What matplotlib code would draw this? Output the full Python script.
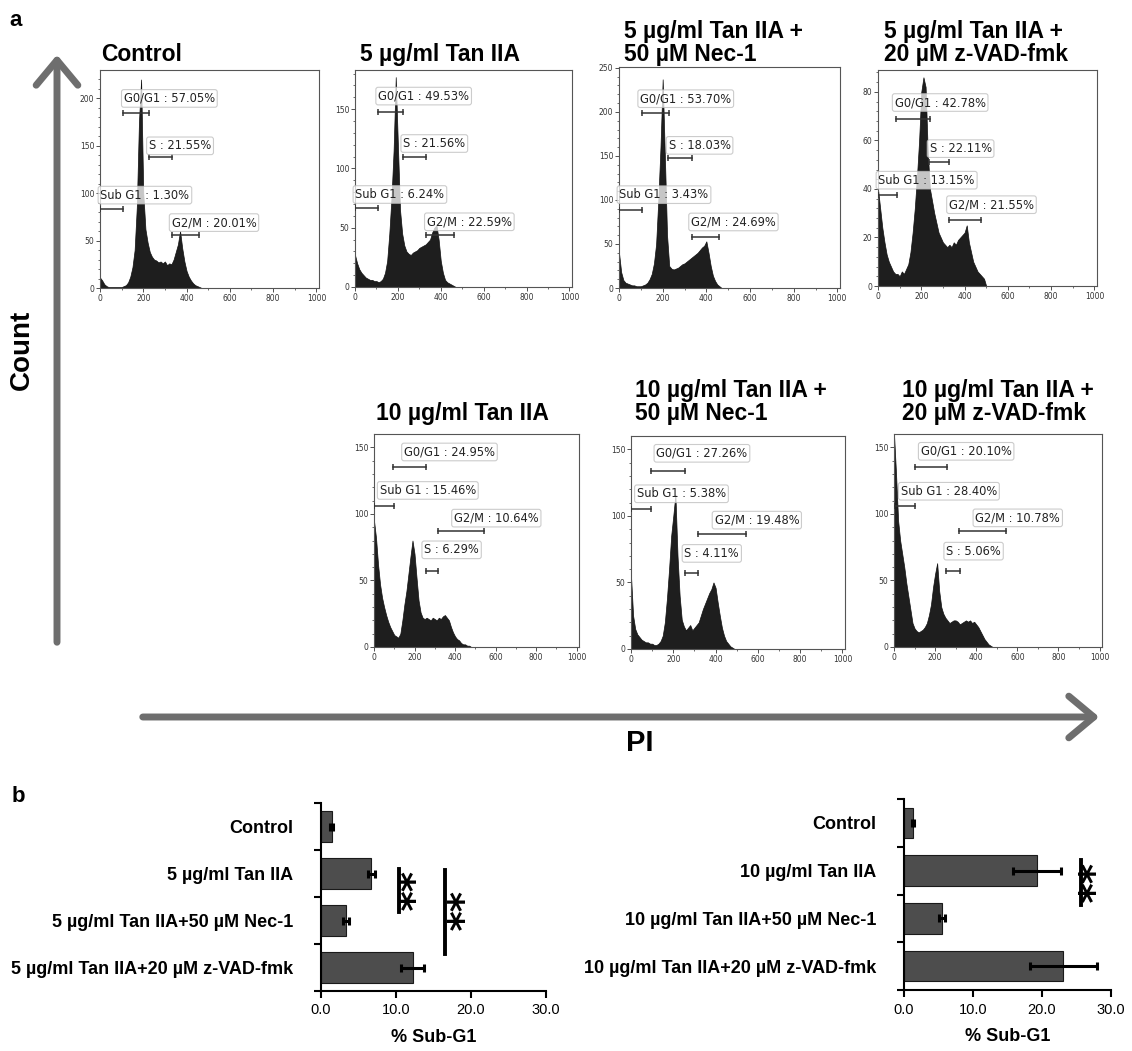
import numpy as np
import matplotlib
matplotlib.use("Agg")
from matplotlib import pyplot as plt
from matplotlib.patches import FancyArrowPatch

# ---- data -------------------------------------------------------------
# PI channel bins (every 10 units) used for all histograms
pi_channels = [0, 10, 20, 30, 40, 50, 60, 70, 80, 90,
               100, 110, 120, 130, 140, 150, 160, 170, 180, 190,
               200, 210, 220, 230, 240, 250, 260, 270, 280, 290,
               300, 310, 320, 330, 340, 350, 360, 370, 380, 390,
               400, 410, 420, 430, 440, 450, 460, 470, 480, 490, 500]

counts_ctrl = [11, 8, 4, 2, 1, 1, 1, 1, 1, 1, 1, 2, 3, 6, 12, 22, 40, 85, 175, 220,
               100, 62, 48, 38, 33, 30, 29, 27, 28, 26, 28, 24, 26, 25, 30, 38, 46, 60, 42, 28,
               18, 12, 8, 5, 3, 2, 1, 0, 0, 0, 0]
counts_5 = [27, 20, 15, 12, 10, 8, 7, 6, 6, 5, 5, 4, 5, 7, 12, 22, 45, 75, 115, 177,
            120, 65, 45, 35, 30, 28, 27, 29, 30, 31, 33, 34, 35, 36, 38, 40, 46, 50, 52, 40,
            22, 12, 6, 4, 3, 2, 1, 0, 0, 0, 0]
counts_5_nec = [40, 18, 9, 6, 5, 4, 3, 3, 2, 2, 2, 3, 4, 6, 10, 16, 28, 50, 100, 160,
                237, 150, 60, 25, 22, 21, 22, 23, 25, 27, 28, 30, 32, 34, 36, 38, 40, 43, 46, 48,
                53, 40, 25, 14, 8, 4, 2, 0, 0, 0, 0]
counts_5_zvad = [40, 32, 24, 18, 13, 10, 8, 6, 5, 5, 4, 6, 5, 7, 9, 14, 22, 32, 45, 60,
                 80, 86, 82, 55, 40, 35, 30, 26, 22, 20, 18, 17, 16, 17, 16, 18, 17, 19, 20, 21,
                 22, 25, 18, 14, 10, 8, 6, 5, 4, 3, 0]
counts_10 = [95, 82, 62, 47, 37, 30, 24, 19, 15, 12, 9, 8, 7, 10, 20, 32, 42, 55, 68, 80,
             70, 52, 35, 26, 22, 21, 22, 21, 20, 22, 21, 20, 22, 21, 23, 24, 22, 20, 15, 11,
             8, 6, 5, 3, 2, 2, 1, 1, 0, 0, 0]
counts_10_nec = [55, 25, 15, 11, 9, 7, 6, 5, 5, 4, 4, 3, 3, 4, 6, 10, 20, 38, 60, 85,
                 100, 116, 70, 40, 22, 17, 14, 16, 18, 14, 16, 18, 20, 25, 30, 34, 38, 42, 45, 50,
                 46, 35, 25, 16, 10, 6, 4, 2, 1, 0, 0]
counts_10_zvad = [160, 130, 95, 80, 70, 60, 48, 38, 28, 18, 14, 12, 11, 12, 13, 15, 18, 24, 32, 45,
                  55, 63, 42, 30, 25, 22, 20, 18, 19, 20, 20, 19, 17, 18, 19, 20, 19, 20, 18, 19,
                  17, 15, 12, 9, 6, 4, 2, 1, 0, 0, 0]

# gate percentages: G0/G1, S, Sub G1, G2/M
pct_ctrl = ["57.05%", "21.55%", "1.30%", "20.01%"]
pct_5 = ["49.53%", "21.56%", "6.24%", "22.59%"]
pct_5_nec = ["53.70%", "18.03%", "3.43%", "24.69%"]
pct_5_zvad = ["42.78%", "22.11%", "13.15%", "21.55%"]
pct_10 = ["24.95%", "6.29%", "15.46%", "10.64%"]
pct_10_nec = ["27.26%", "4.11%", "5.38%", "19.48%"]
pct_10_zvad = ["20.10%", "5.06%", "28.40%", "10.78%"]

gate_names = ["G0/G1", "S", "Sub G1", "G2/M"]

# bar chart data (% Sub-G1, mean and error)
labels_5 = ["Control", "5 µg/ml Tan IIA", "5 µg/ml Tan IIA+50 µM Nec-1",
            "5 µg/ml Tan IIA+20 µM z-VAD-fmk"]
subg1_5 = [1.4, 6.7, 3.3, 12.2]
err_5 = [0.2, 0.5, 0.4, 1.5]

labels_10 = ["Control", "10 µg/ml Tan IIA", "10 µg/ml Tan IIA+50 µM Nec-1",
             "10 µg/ml Tan IIA+20 µM z-VAD-fmk"]
subg1_10 = [1.3, 19.3, 5.5, 23.1]
err_10 = [0.2, 3.5, 0.5, 4.9]

# ---- figure -----------------------------------------------------------
W, H = 1132, 1051
fig = plt.figure(figsize=(W / 100, H / 100), dpi=100)
BOLD = dict(family=["Liberation Sans", "DejaVu Sans"], fontweight="bold")


def px_axes(left, top, right, bottom):
    return fig.add_axes([left / W, 1 - bottom / H, (right - left) / W, (bottom - top) / H])


def fig_text(x, y, s, **kw):
    fig.text(x / W, 1 - y / H, s, **kw)


def draw_hist(ax, counts, ymax, ystep, pcts, gates):
    """gates: list of (x0, x1, y_bar, label_x, label_y) in G0/G1, S, Sub G1, G2/M order"""
    ax.fill_between(pi_channels, counts, color="#1e1e1e", lw=0.5, edgecolor="#111111")
    ax.set_xlim(0, 1012)
    ax.set_ylim(0, ymax)
    ax.set_xticks([0, 200, 400, 600, 800, 1000])
    ax.set_xticks([100, 300, 500, 700, 900], minor=True)
    ax.set_yticks(np.arange(0, ymax, ystep))
    ax.set_yticks(np.arange(0, ymax, ystep / 5), minor=True)
    ax.tick_params(which="major", labelsize=5.5, length=3, width=0.6, pad=1,
                   colors="#333333")
    ax.tick_params(which="minor", length=1.5, width=0.5, colors="#333333")
    for sp in ax.spines.values():
        sp.set_linewidth(0.8)
        sp.set_color("#555555")
    for name, pct, g in zip(gate_names, pcts, gates):
        x0, x1, yb, lx, ly = g
        ax.plot([x0, x1], [yb, yb], color="#333333", lw=1.1, marker="|",
                markersize=5, mew=1.1, zorder=4)
        ax.text(lx, ly, f"{name} : {pct}", ha="left", va="center", fontsize=8.3,
                color="#222222", zorder=5,
                bbox=dict(boxstyle="round,pad=0.2", fc="white", ec="#bbbbbb",
                          lw=0.8, alpha=0.75))


ax1 = px_axes(100, 70, 319, 288)
draw_hist(ax1, counts_ctrl, 230, 50, pct_ctrl,
          [(108, 228, 185, 110, 200), (226, 334, 138, 226, 150),
           (0, 108, 83, 2, 98), (331, 457, 56, 331, 69)])
ax2 = px_axes(355, 70, 572, 287)
draw_hist(ax2, counts_5, 183, 50, pct_5,
          [(105, 225, 148, 108, 161), (225, 333, 110, 225, 121),
           (0, 108, 67, 2, 78), (333, 460, 44, 335, 55)])
ax3 = px_axes(619, 67, 840, 288)
draw_hist(ax3, counts_5_nec, 251, 50, pct_5_nec,
          [(104, 227, 199, 97, 215), (224, 332, 148, 227, 162),
           (0, 107, 89, 2, 106), (332, 458, 58, 330, 75)])
ax4 = px_axes(878, 70, 1097, 286)
draw_hist(ax4, counts_5_zvad, 89, 20, pct_5_zvad,
          [(85, 238, 69, 77, 75.6), (235, 328, 51, 238, 56.6),
           (0, 89, 37.7, 2, 43.6), (328, 477, 27.3, 328, 33.5)])
ax5 = px_axes(374, 434, 579, 647)
draw_hist(ax5, counts_10, 160, 50, pct_10,
          [(95, 257, 135, 148, 146.5), (257, 317, 57, 248, 73),
           (0, 98, 106, 28, 117.6), (315, 545, 87, 395, 96.8)])
ax6 = px_axes(631, 436, 845, 649)
draw_hist(ax6, counts_10_nec, 160, 50, pct_10_nec,
          [(96, 254, 134, 120, 147), (253, 316, 57, 253, 71.8),
           (0, 96, 105, 28, 116.6), (316, 542, 86.6, 395, 96.8)])
ax7 = px_axes(894, 434, 1102, 647)
draw_hist(ax7, counts_10_zvad, 160, 50, pct_10_zvad,
          [(100, 258, 135, 130, 147), (254, 320, 57, 254, 72),
           (0, 100, 106, 33, 117), (315, 543, 87, 396, 97)])

# panel titles
title_kw = dict(fontsize=16.5, ha="left", va="baseline", linespacing=1.0, **BOLD)
fig_text(101, 61, "Control", **title_kw)
fig_text(360, 61, "5 µg/ml Tan IIA", **title_kw)
fig_text(624, 61, "5 µg/ml Tan IIA +\n50 µM Nec-1", **title_kw)
fig_text(884, 61, "5 µg/ml Tan IIA +\n20 µM z-VAD-fmk", **title_kw)
fig_text(376, 420, "10 µg/ml Tan IIA", **title_kw)
fig_text(635, 420, "10 µg/ml Tan IIA +\n50 µM Nec-1", **title_kw)
fig_text(902, 420, "10 µg/ml Tan IIA +\n20 µM z-VAD-fmk", **title_kw)

# axis arrows
arrow_kw = dict(transform=fig.transFigure, arrowstyle="->,head_length=0.9,head_width=0.75",
                mutation_scale=20, lw=5, color="#6e6e6e")
fig.patches.append(FancyArrowPatch((57 / W, 1 - 645 / H), (57 / W, 1 - 52 / H), **arrow_kw))
fig.patches.append(FancyArrowPatch((140 / W, 1 - 717 / H), (1102 / W, 1 - 717 / H), **arrow_kw))
fig_text(22, 350, "Count", fontsize=20, rotation=90, ha="center", va="center", **BOLD)
fig_text(640, 743, "PI", fontsize=21, ha="center", va="center", **BOLD)

fig_text(16, 20, "a", fontsize=16, ha="center", va="center", **BOLD)
fig_text(18, 797, "b", fontsize=16, ha="center", va="center", **BOLD)


# ---- bar charts -------------------------------------------------------
def draw_bars(ax, labels, vals, errs):
    y = np.arange(len(labels))
    ax.barh(y, vals, height=0.64, color="#4d4d4d", edgecolor="#1a1a1a", lw=0.8,
            xerr=errs, error_kw=dict(ecolor="black", elinewidth=2.2, capsize=3, capthick=2.2))
    ax.set_ylim(len(labels) - 0.5, -0.5)
    ax.set_xlim(0, 30)
    ax.set_yticks(y)
    ax.set_yticklabels(labels, fontsize=13, **BOLD)
    ax.set_yticks(np.arange(len(labels) + 1) - 0.5, minor=True)
    ax.tick_params(axis="y", which="major", length=0, pad=20)
    ax.tick_params(axis="y", which="minor", length=5, width=1.5)
    ax.set_xticks([0, 10, 20, 30])
    ax.set_xticklabels(["0.0", "10.0", "20.0", "30.0"], fontsize=10.5,
                       family=["Liberation Sans", "DejaVu Sans"])
    ax.tick_params(axis="x", length=5, width=1.5, pad=4)
    ax.spines["top"].set_visible(False)
    ax.spines["right"].set_visible(False)
    ax.spines["left"].set_linewidth(1.5)
    ax.spines["bottom"].set_linewidth(1.5)
    ax.set_xlabel("% Sub-G1", fontsize=13, labelpad=8, **BOLD)


def sig_mark(ax, x, y0, y1, xs, ys):
    ax.plot([x, x], [y0, y1], color="black", lw=2.8, clip_on=False)
    ax.text(xs, ys, "**", rotation=270, fontsize=28, ha="center", va="center",
            clip_on=False, family=["DejaVu Sans"], fontweight="bold")


axb1 = px_axes(321, 803, 546, 991)
draw_bars(axb1, labels_5, subg1_5, err_5)
sig_mark(axb1, 10.4, 0.9, 1.82, 10.1, 1.38)
sig_mark(axb1, 16.5, 0.93, 2.71, 16.6, 1.8)

axb2 = px_axes(904, 799, 1111, 990)
draw_bars(axb2, labels_10, subg1_10, err_10)
sig_mark(axb2, 25.6, 0.78, 1.71, 25.0, 1.26)

fig.savefig("out.png", dpi=100)
